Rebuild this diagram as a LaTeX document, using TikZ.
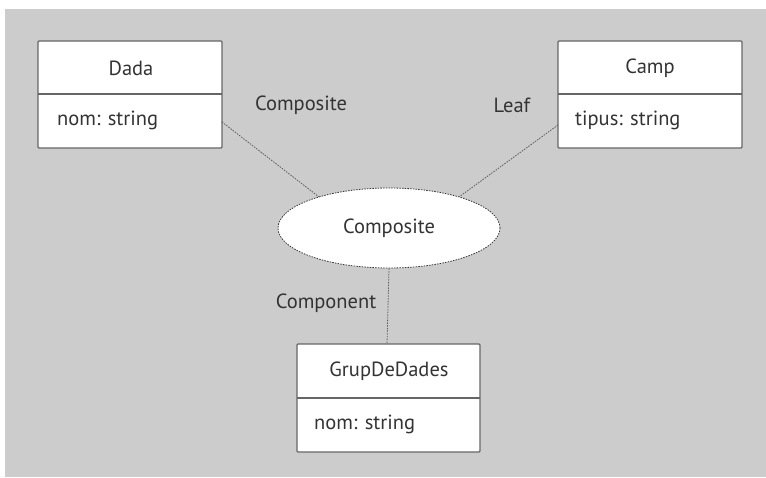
\documentclass[tikz,border=0pt]{standalone}
\usepackage{fontspec}
\setmainfont{PT Sans}
\usetikzlibrary{shapes.geometric}
\definecolor{bg}{HTML}{CCCCCC}
\definecolor{edge}{HTML}{666666}
\definecolor{ink}{HTML}{333333}
\begin{document}
\begin{tikzpicture}[x=1pt,y=-1pt,
  classbox/.style={draw=edge,line width=1.3pt,fill=white,rounded corners=1pt},
  divline/.style={draw=edge,line width=1.2pt},
  conn/.style={draw=ink!80,line width=0.8pt,dash pattern=on 1.5pt off 1.2pt},
  txt/.style={font=\fontsize{20.5}{22}\selectfont,text=ink,inner sep=0pt},
  lbl/.style={font=\fontsize{20.5}{22}\selectfont,text=ink,inner sep=0pt}]
\useasboundingbox (0,0) rectangle (766,477);
\fill[white] (0,0) rectangle (766,477);
\fill[bg] (5,9) rectangle (766,477);
% Dada
\draw[classbox] (38,41) rectangle (222,148);
\draw[divline] (38,94) -- (222,94);
\node[txt] (dada) at (131,68) {Dada};
\node[txt,anchor=west] (dadaattr) at (57,120) {nom: string};
\coordinate (dadaR) at (222,122);
% Camp
\draw[classbox] (558,41) rectangle (742,148);
\draw[divline] (558,94) -- (742,94);
\node[txt] (camp) at (650,68) {Camp};
\node[txt,anchor=west] (campattr) at (575,120) {tipus: string};
\coordinate (campL) at (558,125);
% GrupDeDades
\draw[classbox] (297,344) rectangle (480,452);
\draw[divline] (297,398) -- (480,398);
\node[txt] (grup) at (389,371) {GrupDeDades};
\node[txt,anchor=west] (grupattr) at (314,424) {nom: string};
\coordinate (grupT) at (387,344);
% Ellipse
\node[ellipse,draw=ink,fill=white,line width=0.8pt,dash pattern=on 1.5pt off 1.2pt,
      minimum width=222pt,minimum height=80pt,inner sep=0pt,txt] (comp) at (389,228) {Composite};
% connectors
\draw[conn] (dadaR) -- (comp.156);
\draw[conn] (campL) -- (comp.24);
\draw[conn] (comp.south) -- (grupT);
% labels
\node[lbl] (l1) at (301,105) {Composite};
\node[lbl] (l2) at (512,105) {Leaf};
\node[lbl] (l3) at (326,303) {Component};
\end{tikzpicture}
\end{document}
